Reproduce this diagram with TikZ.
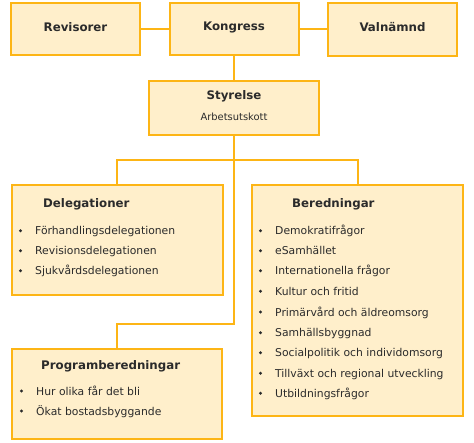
\documentclass[tikz,border=0pt]{standalone}
\usepackage{fontspec}
\setmainfont{DejaVu Sans}
\definecolor{boxfill}{HTML}{FFEFCB}
\definecolor{boxline}{HTML}{FDB515}
\definecolor{txt}{HTML}{2B2B2B}
\begin{document}
\begin{tikzpicture}[x=1pt,y=-1pt,
  box/.style={draw=boxline,fill=boxfill,line width=2pt,inner sep=0pt,rectangle},
  conn/.style={draw=boxline,line width=2pt},
  ttl/.style={font=\fontsize{11.8}{13}\selectfont\bfseries,text=txt,inner sep=0pt},
  itm/.style={font=\fontsize{10.8}{12}\selectfont,text=txt,inner sep=0pt,anchor=base west},
  sub/.style={font=\fontsize{9.9}{11}\selectfont,text=txt,inner sep=0pt},
  bul/.style={fill=txt,circle,inner sep=0pt,minimum size=3.2pt}]
\useasboundingbox (0,0) rectangle (474,442);
% boxes
\node[box,minimum width=129pt,minimum height=52pt] (rev) at (75.5,29) {};
\node[box,minimum width=129pt,minimum height=52pt] (kon) at (234,29) {};
\node[box,minimum width=129pt,minimum height=53pt] (val) at (392.5,29) {};
\node[box,minimum width=170pt,minimum height=54pt] (sty) at (234,108) {};
\node[box,minimum width=211pt,minimum height=110pt] (del) at (117,240) {};
\node[box,minimum width=211pt,minimum height=231pt] (ber) at (357.5,300.5) {};
\node[box,minimum width=210pt,minimum height=90pt] (prog) at (117,394) {};
% connectors
\coordinate (j1) at (234,160);
\coordinate (j2) at (234,324);
\draw[conn] (rev.east) -- (kon.west);
\draw[conn] (kon.east) -- (val.west);
\draw[conn] (kon.south) -- (sty.north);
\draw[conn] (sty.south) -- (j2) -| (prog.north);
\draw[conn] (del.north) |- (j1) -| (ber.north);
% titles
\node[ttl] (trev) at (75.5,27) {Revisorer};
\node[ttl] (tkon) at (234,27) {Kongress};
\node[ttl] (tval) at (392.5,27) {Valnämnd};
\node[ttl] (tsty) at (234,96) {Styrelse};
\node[sub] (tarb) at (234,117) {Arbetsutskott};
\node[ttl,anchor=base west] (tdel) at (43,207.3) {Delegationer};
\node[ttl,anchor=base west] (tber) at (292,207.3) {Beredningar};
\node[ttl,anchor=base west] (tprog) at (41,369.3) {Programberedningar};
% Delegationer items
\foreach \y/\t [count=\i] in {230.7/Förhandlingsdelegationen,250.7/Revisionsdelegationen,270.7/Sjukvårdsdelegationen}{
  \node[bul] (db\i) at (20.5,\y) {};
  \node[itm] (di\i) at (35,\y+4) {\t};
}
% Beredningar items
\foreach \y/\t [count=\i] in {230.7/Demokratifrågor,250.7/eSamhället,270.7/Internationella frågor,291.3/Kultur och fritid,312/Primärvård och äldreomsorg,332.7/Samhällsbyggnad,352.7/Socialpolitik och individomsorg,373.3/Tillväxt och regional utveckling,393.3/Utbildningsfrågor}{
  \node[bul] (bb\i) at (260.5,\y) {};
  \node[itm] (bi\i) at (275,\y+4) {\t};
}
% Programberedningar items
\foreach \y/\t [count=\i] in {391/Hur olika får det bli,411/Ökat bostadsbyggande}{
  \node[bul] (pb\i) at (21.5,\y) {};
  \node[itm] (pi\i) at (36,\y+4) {\t};
}
\end{tikzpicture}
\end{document}
